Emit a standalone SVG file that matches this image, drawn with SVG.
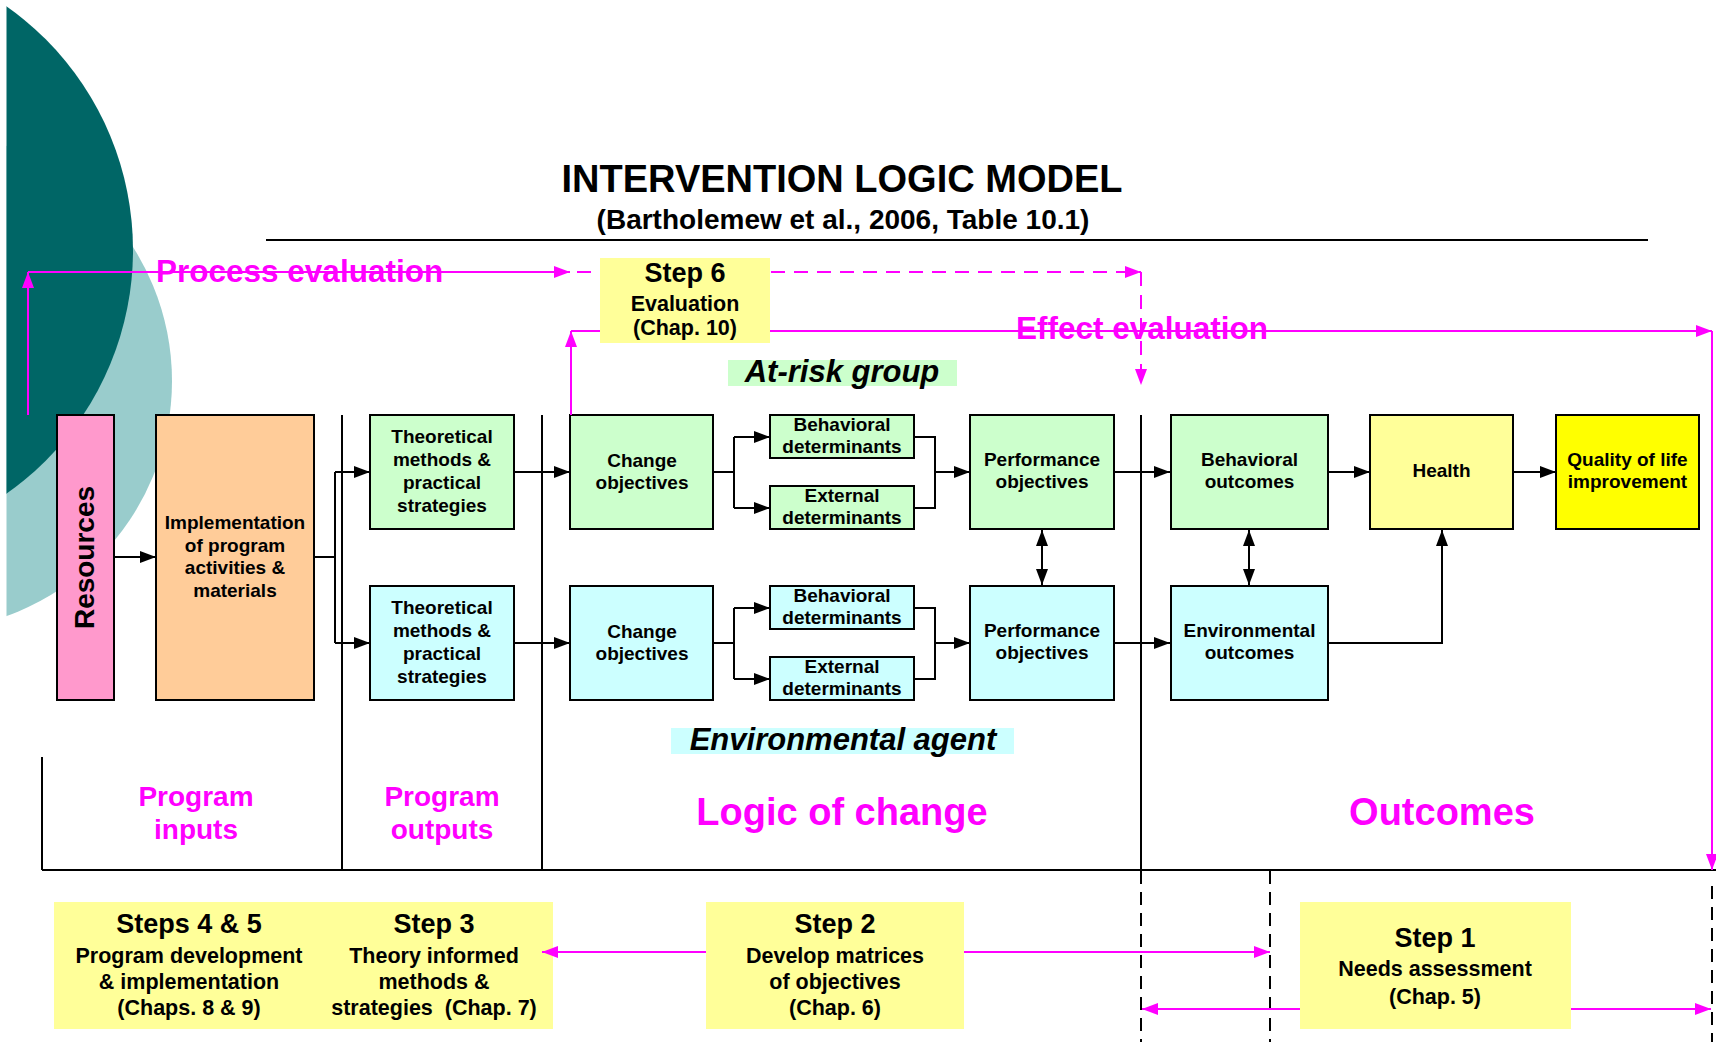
<svg xmlns="http://www.w3.org/2000/svg" width="1716" height="1042" viewBox="0 0 1716 1042">
<style>
text{font-family:"Liberation Sans",Arial,sans-serif;font-weight:bold;text-anchor:middle;fill:#000}
.bx{stroke:#000;stroke-width:2}
.t19{font-size:19px}
.mg{fill:#FF00FF}
.step{font-size:27px}
.sub{font-size:21.5px}
.lab{font-size:28px}
.big{font-size:38px}
.ev{font-size:31.5px;text-anchor:start}
.it{font-style:italic;font-size:31px}
.ml{fill:none;stroke:#FF00FF;stroke-width:2}
.dash{stroke-dasharray:14 9}
</style>
<defs>
<clipPath id="clip"><rect x="6.5" y="0" width="400" height="700"/></clipPath>
<marker id="ab" viewBox="0 0 16 12" refX="16" refY="6" markerWidth="16" markerHeight="12" markerUnits="userSpaceOnUse" orient="auto-start-reverse"><path d="M0,0 L16,6 L0,12 z" fill="#000"/></marker>
<marker id="am" viewBox="0 0 16 12" refX="16" refY="6" markerWidth="16" markerHeight="12" markerUnits="userSpaceOnUse" orient="auto-start-reverse"><path d="M0,0 L16,6 L0,12 z" fill="#FF00FF"/></marker>
</defs>
<rect width="1716" height="1042" fill="#fff"/>
<g id="background" clip-path="url(#clip)">
<circle cx="-77.7" cy="381" r="249.7" fill="#99CCCC"/>
<circle cx="-164.9" cy="250" r="297.9" fill="#006666"/>
</g>
<g id="title">
<text x="842" y="192" style="font-size:38px">INTERVENTION LOGIC MODEL</text>
<text x="843" y="229" style="font-size:28px">(Bartholemew et al., 2006, Table 10.1)</text>
</g>
<g id="frame" fill="none" stroke="#000" stroke-width="2">
<path d="M266,240 H1648"/>
<path d="M342,415 V870 M542,415 V870 M1141,415 V870 M42,757 V870 M42,870 H1716"/>
<path d="M1141,871 V1042 M1270,871 V1042 M1712,886 V1042" stroke-dasharray="13 8"/>
</g>
<g id="labels">
<rect x="728" y="360" width="229" height="26" fill="#CCFFCC"/>
<text class="it" x="842" y="382">At-risk group</text>
<rect x="671" y="728" width="343" height="26" fill="#CCFFFF"/>
<text class="it" x="843" y="750">Environmental agent</text>
<text class="lab mg" x="196" y="806">Program</text>
<text class="lab mg" x="196" y="839">inputs</text>
<text class="lab mg" x="442" y="806">Program</text>
<text class="lab mg" x="442" y="839">outputs</text>
<text class="big mg" x="842" y="825">Logic of change</text>
<text class="big mg" x="1442" y="825">Outcomes</text>
</g>
<g id="resources"><rect class="bx" x="57" y="415" width="57" height="285" fill="#FF99CC"/><text transform="translate(94,557.5) rotate(-90)" style="font-size:28px">Resources</text></g>
<g id="implementation"><rect class="bx" x="156" y="415" width="158" height="285" fill="#FFCC99"/>
<text class="t19" x="235" y="529">Implementation</text><text class="t19" x="235" y="552">of program</text><text class="t19" x="235" y="574">activities &amp;</text><text class="t19" x="235" y="597">materials</text></g>
<g id="methods-top"><rect class="bx" x="370" y="415" width="144" height="114" fill="#CCFFCC"/>
<text class="t19" x="442" y="443">Theoretical</text><text class="t19" x="442" y="466">methods &amp;</text><text class="t19" x="442" y="489">practical</text><text class="t19" x="442" y="512">strategies</text></g>
<g id="methods-bottom"><rect class="bx" x="370" y="586" width="144" height="114" fill="#CCFFFF"/>
<text class="t19" x="442" y="614">Theoretical</text><text class="t19" x="442" y="637">methods &amp;</text><text class="t19" x="442" y="660">practical</text><text class="t19" x="442" y="683">strategies</text></g>
<g id="change-top"><rect class="bx" x="570" y="415" width="143" height="114" fill="#CCFFCC"/>
<text class="t19" x="642" y="467">Change</text><text class="t19" x="642" y="489">objectives</text></g>
<g id="change-bottom"><rect class="bx" x="570" y="586" width="143" height="114" fill="#CCFFFF"/>
<text class="t19" x="642" y="638">Change</text><text class="t19" x="642" y="660">objectives</text></g>
<g id="beh-det-top"><rect class="bx" x="770" y="415" width="144" height="43" fill="#CCFFCC"/>
<text class="t19" x="842" y="431">Behavioral</text><text class="t19" x="842" y="453">determinants</text></g>
<g id="ext-det-top"><rect class="bx" x="770" y="486" width="144" height="43" fill="#CCFFCC"/>
<text class="t19" x="842" y="502">External</text><text class="t19" x="842" y="524">determinants</text></g>
<g id="beh-det-bottom"><rect class="bx" x="770" y="586" width="144" height="43" fill="#CCFFFF"/>
<text class="t19" x="842" y="602">Behavioral</text><text class="t19" x="842" y="624">determinants</text></g>
<g id="ext-det-bottom"><rect class="bx" x="770" y="657" width="144" height="43" fill="#CCFFFF"/>
<text class="t19" x="842" y="673">External</text><text class="t19" x="842" y="695">determinants</text></g>
<g id="perf-top"><rect class="bx" x="970" y="415" width="144" height="114" fill="#CCFFCC"/>
<text class="t19" x="1042" y="466">Performance</text><text class="t19" x="1042" y="488">objectives</text></g>
<g id="perf-bottom"><rect class="bx" x="970" y="586" width="144" height="114" fill="#CCFFFF"/>
<text class="t19" x="1042" y="637">Performance</text><text class="t19" x="1042" y="659">objectives</text></g>
<g id="beh-outcomes"><rect class="bx" x="1171" y="415" width="157" height="114" fill="#CCFFCC"/>
<text class="t19" x="1249.5" y="466">Behavioral</text><text class="t19" x="1249.5" y="488">outcomes</text></g>
<g id="env-outcomes"><rect class="bx" x="1171" y="586" width="157" height="114" fill="#CCFFFF"/>
<text class="t19" x="1249.5" y="637">Environmental</text><text class="t19" x="1249.5" y="659">outcomes</text></g>
<g id="health"><rect class="bx" x="1370" y="415" width="143" height="114" fill="#FFFF99"/>
<text class="t19" x="1441.5" y="477">Health</text></g>
<g id="quality"><rect class="bx" x="1556" y="415" width="143" height="114" fill="#FFFF00"/>
<text class="t19" x="1627.5" y="466">Quality of life</text><text class="t19" x="1627.5" y="488">improvement</text></g>
<g id="step6"><rect x="600" y="258" width="170" height="85" fill="#FFFF99"/>
<text class="step" x="685" y="282">Step 6</text><text class="sub" x="685" y="311">Evaluation</text><text class="sub" x="685" y="335">(Chap. 10)</text></g>
<g id="steps-4-5-3"><rect x="54" y="902" width="499" height="127" fill="#FFFF99"/>
<text class="step" x="189" y="933">Steps 4 &amp; 5</text><text class="sub" x="189" y="963">Program development</text><text class="sub" x="189" y="989">&amp; implementation</text><text class="sub" x="189" y="1015">(Chaps. 8 &amp; 9)</text>
<text class="step" x="434" y="933">Step 3</text><text class="sub" x="434" y="963">Theory informed</text><text class="sub" x="434" y="989">methods &amp;</text><text class="sub" x="434" y="1015">strategies&#160; (Chap. 7)</text></g>
<g id="step2"><rect x="706" y="902" width="258" height="127" fill="#FFFF99"/>
<text class="step" x="835" y="933">Step 2</text><text class="sub" x="835" y="963">Develop matrices</text><text class="sub" x="835" y="989">of objectives</text><text class="sub" x="835" y="1015">(Chap. 6)</text></g>
<g id="step1"><rect x="1300" y="902" width="271" height="127" fill="#FFFF99"/>
<text class="step" x="1435" y="947">Step 1</text><text class="sub" x="1435" y="976">Needs assessment</text><text class="sub" x="1435" y="1004">(Chap. 5)</text></g>
<g id="connectors">
<g fill="none" stroke="#000" stroke-width="2">
<path d="M114,557 H156" marker-end="url(#ab)"/>
<path d="M314,557 H335 M335,472 V643"/>
<path d="M335,472 H370" marker-end="url(#ab)"/>
<path d="M335,643 H370" marker-end="url(#ab)"/>
<path d="M514,472 H570" marker-end="url(#ab)"/>
<path d="M514,643 H570" marker-end="url(#ab)"/>
<path d="M713,472 H734 M734,437 V508 M713,643 H734 M734,608 V679"/>
<path d="M734,437 H770" marker-end="url(#ab)"/>
<path d="M734,508 H770" marker-end="url(#ab)"/>
<path d="M734,608 H770" marker-end="url(#ab)"/>
<path d="M734,679 H770" marker-end="url(#ab)"/>
<path d="M914,437 H935 V508 H914 M914,608 H935 V679 H914"/>
<path d="M935,472 H970" marker-end="url(#ab)"/>
<path d="M935,643 H970" marker-end="url(#ab)"/>
<path d="M1042,530 V585" marker-start="url(#ab)" marker-end="url(#ab)"/>
<path d="M1114,472 H1170" marker-end="url(#ab)"/>
<path d="M1114,643 H1170" marker-end="url(#ab)"/>
<path d="M1249,530 V585" marker-start="url(#ab)" marker-end="url(#ab)"/>
<path d="M1328,472 H1370" marker-end="url(#ab)"/>
<path d="M1513,472 H1556" marker-end="url(#ab)"/>
<path d="M1328,643 H1442 V530" marker-end="url(#ab)"/>
</g>
<g class="ml">
<path d="M28,415 V272" marker-end="url(#am)"/>
<path d="M28,272 H570" marker-end="url(#am)"/>
<path class="dash" d="M577,272 H600"/>
<path class="dash" d="M771,272 H1141" marker-end="url(#am)"/>
<path class="dash" d="M1141,272 V385" marker-end="url(#am)"/>
<path d="M571,415 V331" marker-end="url(#am)"/>
<path d="M571,331 H600"/>
<path d="M770,331 H1712" marker-end="url(#am)"/>
<path d="M1712,331 V870" marker-end="url(#am)"/>
<path d="M706,952 H542" marker-end="url(#am)"/>
<path d="M964,952 H1270" marker-end="url(#am)"/>
<path d="M1300,1009 H1142" marker-end="url(#am)"/>
<path d="M1571,1009 H1711" marker-end="url(#am)"/>
</g>
</g>
<g id="eval-labels">
<text class="ev mg" x="156" y="282">Process evaluation</text>
<text class="ev mg" x="1016" y="339">Effect evaluation</text>
</g>
</svg>
